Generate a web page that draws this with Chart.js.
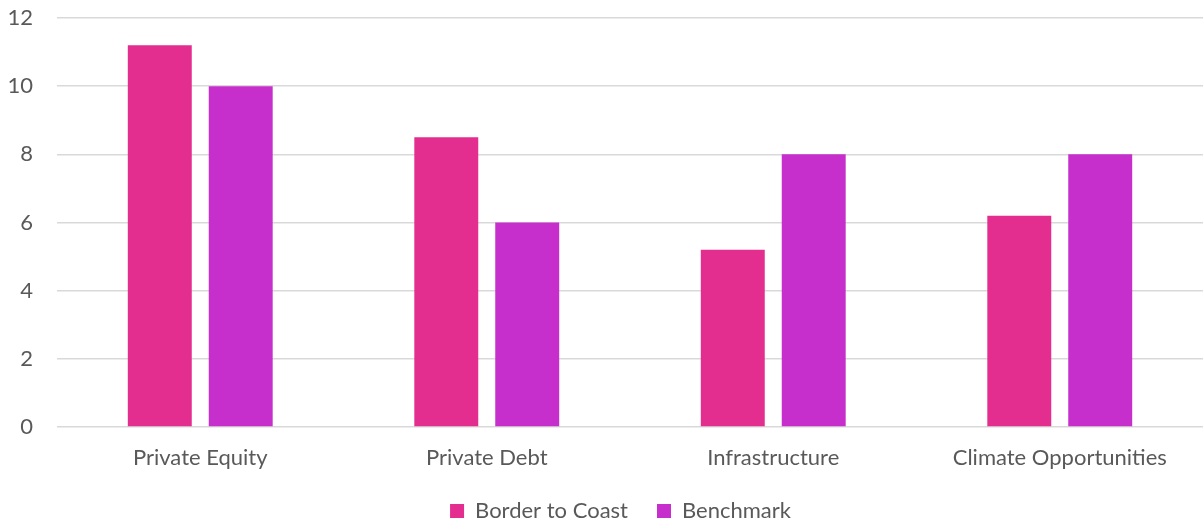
<!DOCTYPE html>
<html>
<head>
<meta charset="utf-8">
<script src="https://cdn.jsdelivr.net/npm/chart.js@4/dist/chart.umd.min.js"></script>
<style>
  html, body { margin: 0; padding: 0; background: #fff; }
  #wrap { width: 1203px; height: 522px; }
</style>
</head>
<body>
<div id="wrap"><canvas id="chart"></canvas></div>
<script>
const categories = ["Private Equity", "Private Debt", "Infrastructure", "Climate Opportunities"];
const borderToCoast = [11.2, 8.5, 5.2, 6.2];
const benchmark = [10, 6, 8, 8];
const yTicks = [0, 2, 4, 6, 8, 10, 12];

Chart.defaults.font.family = "Lato, 'Open Sans', sans-serif";
Chart.defaults.color = "#595959";

// legend: wide gap between items but a short box, centred on y=510
const legendPlace = {
  id: "legendPlace",
  beforeLayout(chart) {
    const lg = chart.legend;
    if (lg && !lg._short) {
      const fit = lg.fit;
      lg.fit = function () {
        fit.call(this);
        this.height = 40;
      };
      lg._short = true;
    }
  },
  afterLayout(chart) {
    const lg = chart.legend;
    lg.left += 19;
    lg.right += 19;
    lg.top = 471;
    lg.bottom = 522;
  },
};

const ctx = document.getElementById("chart").getContext("2d");
new Chart(ctx, {
  type: "bar",
  data: {
    labels: categories,
    datasets: [
      {
        label: "Border to Coast",
        data: borderToCoast,
        backgroundColor: "#e32d8f",
        categoryPercentage: 0.565,
        barPercentage: 0.79,
      },
      {
        label: "Benchmark",
        data: benchmark,
        backgroundColor: "#c62fcb",
        categoryPercentage: 0.565,
        barPercentage: 0.79,
      },
    ],
  },
  options: {
    responsive: true,
    maintainAspectRatio: false,
    animation: false,
    layout: { padding: { top: 18, right: 0, bottom: 0, left: 0 } },
    plugins: {
      legend: {
        position: "bottom",
        labels: {
          font: { size: 22 },
          boxWidth: 14,
          boxHeight: 14,
          padding: 29,
        },
      },
      tooltip: { enabled: false },
    },
    scales: {
      x: {
        grid: { display: false, drawTicks: false },
        border: { display: false },
        ticks: { font: { size: 22 }, padding: 18 },
        afterFit: (axis) => {
          axis.height = 55;
        },
      },
      y: {
        min: yTicks[0],
        max: yTicks[yTicks.length - 1],
        afterBuildTicks: (axis) => {
          axis.ticks = yTicks.map((v) => ({ value: v }));
        },
        afterFit: (axis) => {
          axis.width = 57;
          axis.paddingTop = 0;
          axis.paddingBottom = 0;
        },
        grid: { color: "#d9d9d9", lineWidth: 1.5, drawTicks: false },
        border: { display: false },
        ticks: { font: { size: 22 }, padding: 24 },
      },
    },
  },
  plugins: [legendPlace],
});
</script>
</body>
</html>
